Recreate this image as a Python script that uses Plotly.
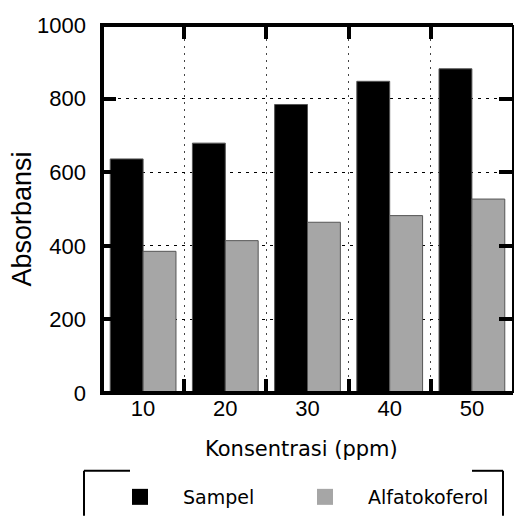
import plotly.graph_objects as go

categories = ["10", "20", "30", "40", "50"]
sampel = [636, 679, 784, 847, 881]
alfatokoferol = [385, 414, 464, 482, 527]
y_ticks = [0, 200, 400, 600, 800, 1000]
x_title = "Konsentrasi (ppm)"
y_title = "Absorbansi"
names = ["Sampel", "Alfatokoferol"]

W, H = 514, 516
L, R, T, B = 102, 1, 25, 122
pw, ph = W - L - R, H - T - B

def px(x):
    return (x - L) / pw

def py(y):
    return (H - B - y) / ph

fig = go.Figure()
fig.add_trace(go.Bar(x=categories, y=sampel, name=names[0], showlegend=False,
                     marker=dict(color="#000000", line=dict(color="#555555", width=1))))
fig.add_trace(go.Bar(x=categories, y=alfatokoferol, name=names[1], showlegend=False,
                     marker=dict(color="#a6a6a6", line=dict(color="#555555", width=1))))
# legend entries
fig.add_trace(go.Scatter(x=[None], y=[None], mode="markers", name=names[0], legend="legend",
                         marker=dict(symbol="square", size=16, color="#000000", line=dict(width=0))))
fig.add_trace(go.Scatter(x=[None], y=[None], mode="markers", name=names[1], legend="legend2",
                         marker=dict(symbol="square", size=16, color="#a6a6a6", line=dict(width=0))))

tickfont = dict(family="Liberation Sans, Arial", size=22, color="#000")
legfont = dict(family="DejaVu Sans, Verdana", size=19, color="#000")

fig.update_layout(
    width=W, height=H,
    margin=dict(l=L, r=R, t=T, b=B, pad=0),
    paper_bgcolor="white", plot_bgcolor="white",
    barmode="group", bargap=0.2, bargroupgap=0,
    showlegend=True,
    legend=dict(orientation="h", x=px(97), xanchor="left", y=py(497), yanchor="middle",
                font=legfont, itemwidth=76, bgcolor="rgba(0,0,0,0)", borderwidth=0),
    legend2=dict(orientation="h", x=px(282), xanchor="left", y=py(497), yanchor="middle",
                 font=legfont, itemwidth=76, bgcolor="rgba(0,0,0,0)", borderwidth=0),
    xaxis=dict(type="category", range=[-0.5, 4.5], tickson="boundaries",
               ticks="inside", ticklen=14, tickwidth=4, tickcolor="#000", mirror="ticks",
               showline=False, zeroline=False,
               showgrid=True, gridcolor="#444444", gridwidth=1.3, griddash="2px,5px",
               tickfont=tickfont, ticklabelstandoff=0),
    yaxis=dict(range=[0, 1000], tickvals=y_ticks,
               ticks="inside", ticklen=14, tickwidth=4, tickcolor="#000", mirror="ticks",
               showline=False, zeroline=False,
               showgrid=True, gridcolor="#000000", gridwidth=1, griddash="3px,5px",
               tickfont=tickfont, ticklabelstandoff=15),
)

# frame
line_black = dict(color="#000", width=4)
fig.add_shape(type="line", xref="paper", yref="paper", x0=0, x1=0, y0=0, y1=1, line=line_black, layer="above")
fig.add_shape(type="line", xref="paper", yref="paper", x0=px(100), x1=1, y0=1, y1=1, line=line_black, layer="above")
fig.add_shape(type="line", xref="paper", yref="paper", x0=px(100), x1=1, y0=0, y1=0, line=line_black, layer="above")
fig.add_shape(type="line", xref="paper", yref="paper", x0=1, x1=1, y0=0, y1=1, line=dict(color="#000", width=2), layer="above")

# partial legend frame
lw = dict(color="#000", width=2)
fig.add_shape(type="line", xref="paper", yref="paper", x0=px(84), x1=px(84), y0=py(472), y1=py(517), line=lw)
fig.add_shape(type="line", xref="paper", yref="paper", x0=px(84), x1=px(130), y0=py(472), y1=py(472), line=lw)
fig.add_shape(type="line", xref="paper", yref="paper", x0=px(503), x1=px(503), y0=py(472), y1=py(517), line=lw)
fig.add_shape(type="line", xref="paper", yref="paper", x0=px(472), x1=px(503), y0=py(472), y1=py(472), line=lw)

fig.add_annotation(text=x_title, xref="paper", yref="paper", x=px(301), y=py(450),
                   xanchor="center", yanchor="middle", showarrow=False,
                   font=dict(family="DejaVu Sans, Verdana", size=21, color="#000"))
fig.add_annotation(text=y_title, xref="paper", yref="paper", x=px(22), y=py(220),
                   xanchor="center", yanchor="middle", showarrow=False,
                   textangle=-90, font=dict(family="Liberation Sans, Arial", size=27, color="#000"))

fig.write_html("out.html")
